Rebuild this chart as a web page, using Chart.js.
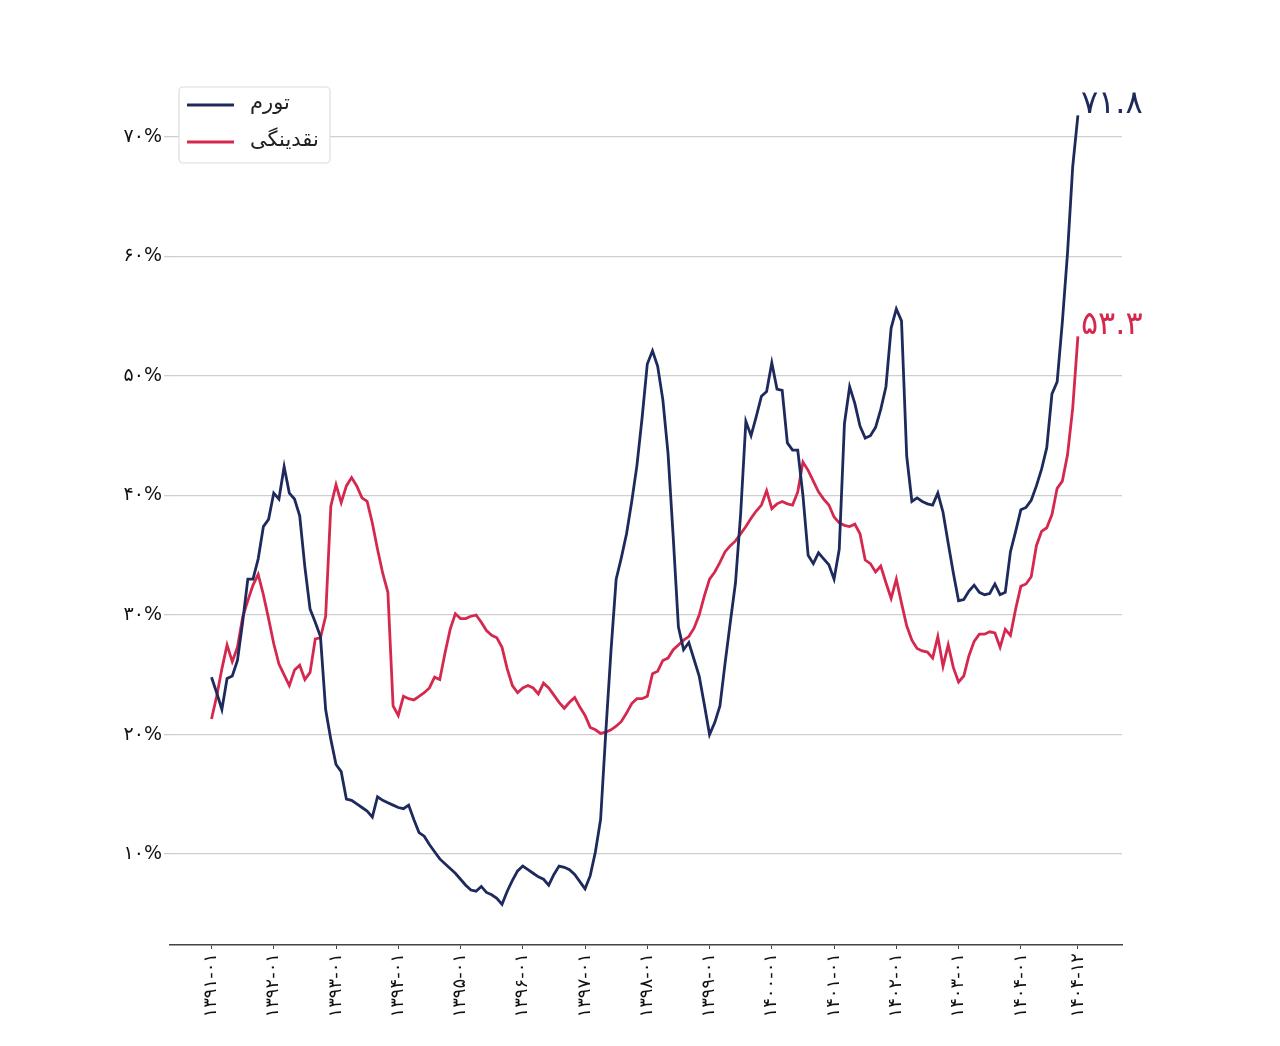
<!DOCTYPE html>
<html lang="fa">
<head>
<meta charset="UTF-8">
<title>تورم و نقدینگی</title>
<script src="https://cdn.jsdelivr.net/npm/chart.js"></script>
<style>
  html, body { margin: 0; padding: 0; background: #fff; }
  #wrap { width: 1280px; height: 1046px; }
</style>
</head>
<body>
<div id="wrap"><canvas id="grafico"></canvas></div>
<script>
// monthly series 1391-01 .. 1404-12 (index 0..167)
var tavarom = [
  24.8, 23.5, 22.1, 24.7, 24.9, 26.2, 29.4, 33.0, 33.0, 34.7, 37.4, 38.0,
  40.2, 39.7, 42.4, 40.2, 39.7, 38.3, 34.0, 30.5, 29.4, 28.2, 22.1, 19.6,
  17.5, 16.9, 14.6, 14.5, 14.2, 13.9, 13.6, 13.1, 14.8, 14.5, 14.3, 14.1,
  13.9, 13.8, 14.1, 12.9, 11.8, 11.5, 10.8, 10.2, 9.6, 9.2, 8.8, 8.4,
  7.9, 7.4, 7.0, 6.9, 7.3, 6.8, 6.6, 6.3, 5.8, 6.9, 7.8, 8.6,
  9.0, 8.7, 8.4, 8.1, 7.9, 7.4, 8.3, 9.0, 8.9, 8.7, 8.3, 7.7,
  7.1, 8.2, 10.2, 12.9, 20.2, 27.0, 33.0, 34.8, 36.8, 39.5, 42.5, 46.5,
  51.0, 52.1, 50.8, 48.0, 43.5, 36.5, 29.0, 27.1, 27.7, 26.3, 24.9, 22.5,
  20.0, 21.0, 22.4, 26.0, 29.4, 32.7, 38.5, 46.2, 45.0, 46.6, 48.3, 48.7,
  51.1, 48.9, 48.8, 44.4, 43.8, 43.8, 40.0, 35.0, 34.3, 35.2, 34.7, 34.2,
  33.0, 35.5, 46.0, 49.1, 47.7, 45.8, 44.8, 45.0, 45.7, 47.2, 49.1, 54.0,
  55.6, 54.6, 43.3, 39.5, 39.8, 39.5, 39.3, 39.2, 40.2, 38.6, 36.0, 33.5,
  31.2, 31.3, 32.0, 32.5, 31.9, 31.7, 31.8, 32.6, 31.7, 31.9, 35.3, 37.0,
  38.8, 39.0, 39.6, 40.8, 42.2, 44.0, 48.5, 49.5, 54.5, 60.3, 67.5, 71.8
];
var naghdinegi = [
  21.3, 23.2, 25.5, 27.5, 26.1, 27.3, 29.8, 31.2, 32.5, 33.4, 31.7, 29.7,
  27.6, 25.9, 25.0, 24.1, 25.4, 25.8, 24.6, 25.2, 28.0, 28.1, 29.9, 39.1,
  40.9, 39.4, 40.8, 41.5, 40.8, 39.8, 39.5, 37.7, 35.5, 33.5, 31.9, 22.4,
  21.6, 23.2, 23.0, 22.9, 23.2, 23.5, 23.9, 24.8, 24.6, 26.8, 28.8, 30.1,
  29.7, 29.7, 29.9, 30.0, 29.4, 28.7, 28.3, 28.1, 27.3, 25.5, 24.1, 23.5,
  23.9, 24.1, 23.9, 23.4, 24.3, 23.9, 23.3, 22.7, 22.2, 22.7, 23.1, 22.3,
  21.6, 20.6, 20.4, 20.1, 20.2, 20.4, 20.7, 21.1, 21.8, 22.6, 23.0, 23.0,
  23.2, 25.1, 25.3, 26.2, 26.4, 27.1, 27.5, 27.9, 28.2, 28.9, 30.0, 31.6,
  33.0, 33.6, 34.4, 35.3, 35.8, 36.2, 36.8, 37.4, 38.1, 38.7, 39.2, 40.4,
  38.9, 39.3, 39.5, 39.3, 39.2, 40.3, 42.8, 42.1, 41.2, 40.3, 39.7, 39.2,
  38.2, 37.7, 37.5, 37.4, 37.6, 36.8, 34.6, 34.3, 33.6, 34.1, 32.7, 31.4,
  33.0, 31.0, 29.1, 27.9, 27.2, 27.0, 26.9, 26.4, 28.2, 25.7, 27.5, 25.6,
  24.4, 24.9, 26.6, 27.8, 28.4, 28.4, 28.6, 28.5, 27.3, 28.8, 28.3, 30.5,
  32.4, 32.6, 33.2, 35.8, 37.0, 37.3, 38.4, 40.6, 41.2, 43.4, 47.3, 53.3
];

var tickMonths = [0, 12, 24, 36, 48, 60, 72, 84, 96, 108, 120, 132, 144, 156, 167];
var tickLabels = ['۱۳۹۱-۰۱', '۱۳۹۲-۰۱', '۱۳۹۳-۰۱', '۱۳۹۴-۰۱', '۱۳۹۵-۰۱', '۱۳۹۶-۰۱', '۱۳۹۷-۰۱',
  '۱۳۹۸-۰۱', '۱۳۹۹-۰۱', '۱۴۰۰-۰۱', '۱۴۰۱-۰۱', '۱۴۰۲-۰۱', '۱۴۰۳-۰۱', '۱۴۰۴-۰۱', '۱۴۰۴-۱۲'];
var yTicks = [10, 20, 30, 40, 50, 60, 70];
var yTickLabels = ['۱۰%', '۲۰%', '۳۰%', '۴۰%', '۵۰%', '۶۰%', '۷۰%'];
var endLabels = ['۷۱.۸', '۵۳.۳'];

var navy = '#1d2a5b';
var crimson = '#d5284f';
var fonte = '"DejaVu Sans", "Noto Sans", sans-serif';

function pontos(lista) {
  return lista.map(function (v, i) { return { x: i, y: v }; });
}

// legend box drawn inside the plot, top-left
var legendaBox = {
  id: 'legendaBox',
  afterDraw: function (chart) {
    var ctx = chart.ctx;
    var x = 179, y = 87, w = 151, h = 76;
    ctx.save();
    ctx.fillStyle = '#ffffff';
    ctx.strokeStyle = '#dcdcdc';
    ctx.lineWidth = 1.2;
    ctx.beginPath();
    ctx.roundRect(x, y, w, h, 4);
    ctx.fill();
    ctx.stroke();
    var linhas = [105, 142];
    chart.data.datasets.forEach(function (ds, k) {
      ctx.strokeStyle = ds.borderColor;
      ctx.lineWidth = 3;
      ctx.beginPath();
      ctx.moveTo(187, linhas[k]);
      ctx.lineTo(234, linhas[k]);
      ctx.stroke();
      ctx.fillStyle = '#222';
      ctx.font = '21px ' + fonte;
      ctx.textAlign = 'left';
      ctx.textBaseline = 'middle';
      ctx.fillText(ds.label, 250, linhas[k] - 1);
    });
    ctx.restore();
  }
};

// value written next to the last point of each line
var rotuloFinal = {
  id: 'rotuloFinal',
  afterDatasetsDraw: function (chart) {
    var ctx = chart.ctx;
    ctx.save();
    chart.data.datasets.forEach(function (ds, k) {
      var meta = chart.getDatasetMeta(k);
      var p = meta.data[meta.data.length - 1];
      ctx.fillStyle = ds.borderColor;
      ctx.font = '32px ' + fonte;
      ctx.textAlign = 'left';
      ctx.textBaseline = 'middle';
      ctx.fillText(endLabels[k], p.x + 3, p.y - 11);
    });
    ctx.restore();
  }
};

var grafico = new Chart(document.getElementById('grafico'), {
  type: 'line',
  data: {
    datasets: [
      { label: 'تورم', data: pontos(tavarom), borderColor: navy, borderWidth: 2.8, pointRadius: 0, tension: 0 },
      { label: 'نقدینگی', data: pontos(naghdinegi), borderColor: crimson, borderWidth: 2.8, pointRadius: 0, tension: 0 }
    ]
  },
  options: {
    responsive: true,
    maintainAspectRatio: false,
    animation: false,
    layout: { padding: { top: 89, right: 158, bottom: 0, left: 0 } },
    plugins: {
      legend: { display: false },
      tooltip: { enabled: false }
    },
    scales: {
      x: {
        type: 'linear',
        min: -8,
        max: 175.5,
        afterBuildTicks: function (scale) {
          scale.ticks = tickMonths.map(function (v) { return { value: v }; });
        },
        afterFit: function (scale) { scale.height = 101; },
        grid: { drawOnChartArea: false, drawTicks: true, tickLength: 4, color: '#444' },
        border: { display: true, color: '#444', width: 1.5 },
        ticks: {
          autoSkip: false,
          minRotation: 90,
          maxRotation: 90,
          padding: 4,
          color: '#111',
          font: { family: fonte, size: 18 },
          callback: function (v) { return tickLabels[tickMonths.indexOf(v)]; }
        }
      },
      y: {
        min: 2.4,
        max: 74,
        afterBuildTicks: function (scale) {
          scale.ticks = yTicks.map(function (v) { return { value: v }; });
        },
        afterFit: function (scale) { scale.width = 170; },
        grid: { color: '#cfcfcf', lineWidth: 1.3, drawTicks: true, tickLength: 6 },
        border: { display: false },
        ticks: {
          padding: 2,
          color: '#111',
          font: { family: fonte, size: 19 },
          callback: function (v) { return yTickLabels[yTicks.indexOf(v)]; }
        }
      }
    }
  },
  plugins: [legendaBox, rotuloFinal]
});
</script>
</body>
</html>
